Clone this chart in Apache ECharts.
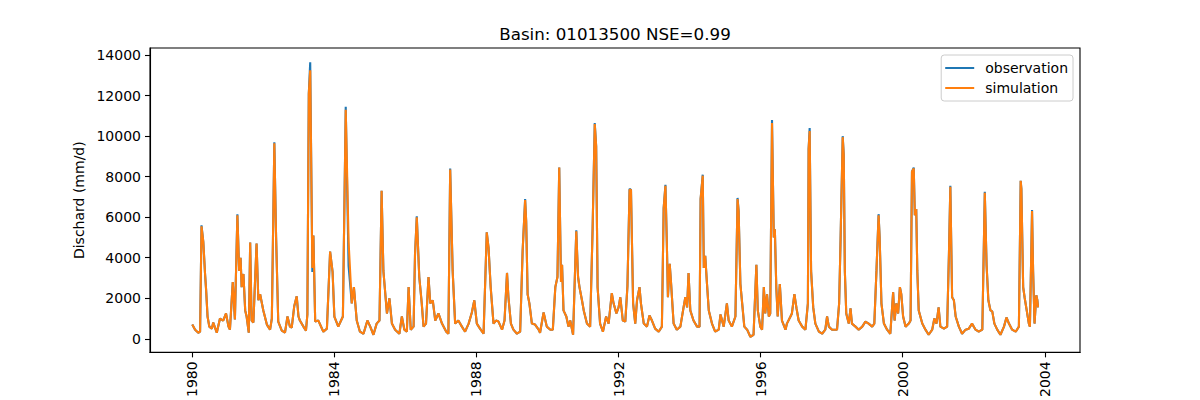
<!DOCTYPE html>
<html>
<head>
<meta charset="utf-8">
<script src="https://cdn.jsdelivr.net/npm/echarts@6/dist/echarts.min.js"></script>
<style>
  html, body { margin: 0; padding: 0; background: #fff; }
  #chart { width: 1200px; height: 400px; }
</style>
</head>
<body>
<div id="chart"></div>
<script>
// decimal years of the read-off points
const years = [
  1980.00, 1980.08, 1980.17, 1980.22, 1980.26, 1980.31, 1980.36, 1980.39, 1980.43, 1980.48,
  1980.55, 1980.59, 1980.69, 1980.78, 1980.87, 1980.95, 1981.02, 1981.06, 1981.14, 1981.20,
  1981.27, 1981.32, 1981.36, 1981.39, 1981.44, 1981.49, 1981.53, 1981.59, 1981.63, 1981.67,
  1981.72, 1981.81, 1981.86, 1981.91, 1982.00, 1982.10, 1982.19, 1982.24, 1982.31, 1982.36,
  1982.42, 1982.52, 1982.61, 1982.68, 1982.75, 1982.80, 1982.87, 1982.94, 1982.99, 1983.03,
  1983.13, 1983.20, 1983.24, 1983.28, 1983.32, 1983.38, 1983.41, 1983.46, 1983.55, 1983.69,
  1983.79, 1983.88, 1983.95, 1984.00, 1984.11, 1984.24, 1984.32, 1984.40, 1984.49, 1984.55,
  1984.63, 1984.72, 1984.82, 1984.93, 1985.01, 1985.10, 1985.19, 1985.27, 1985.33, 1985.38,
  1985.48, 1985.55, 1985.62, 1985.71, 1985.83, 1985.90, 1985.97, 1986.04, 1986.09, 1986.15,
  1986.23, 1986.27, 1986.32, 1986.39, 1986.46, 1986.51, 1986.58, 1986.65, 1986.70, 1986.77,
  1986.84, 1986.93, 1987.03, 1987.15, 1987.21, 1987.26, 1987.33, 1987.40, 1987.49, 1987.59,
  1987.68, 1987.78, 1987.87, 1987.94, 1988.01, 1988.10, 1988.20, 1988.29, 1988.34, 1988.40,
  1988.48, 1988.55, 1988.62, 1988.72, 1988.79, 1988.86, 1988.90, 1988.97, 1989.04, 1989.14,
  1989.23, 1989.30, 1989.37, 1989.40, 1989.44, 1989.49, 1989.56, 1989.65, 1989.75, 1989.79,
  1989.89, 1989.98, 1990.08, 1990.15, 1990.22, 1990.28, 1990.33, 1990.38, 1990.41, 1990.45,
  1990.53, 1990.59, 1990.64, 1990.72, 1990.81, 1990.86, 1990.90, 1990.97, 1991.02, 1991.11,
  1991.20, 1991.27, 1991.33, 1991.37, 1991.41, 1991.48, 1991.56, 1991.65, 1991.72, 1991.81,
  1991.86, 1991.94, 1992.00, 1992.05, 1992.12, 1992.19, 1992.25, 1992.31, 1992.35, 1992.41,
  1992.47, 1992.52, 1992.59, 1992.63, 1992.71, 1992.80, 1992.87, 1992.94, 1993.03, 1993.13,
  1993.22, 1993.27, 1993.32, 1993.36, 1993.39, 1993.44, 1993.48, 1993.55, 1993.64, 1993.74,
  1993.83, 1993.88, 1993.93, 1993.97, 1994.02, 1994.11, 1994.21, 1994.28, 1994.31, 1994.37,
  1994.40, 1994.44, 1994.49, 1994.54, 1994.63, 1994.72, 1994.82, 1994.87, 1994.96, 1995.05,
  1995.10, 1995.19, 1995.29, 1995.35, 1995.38, 1995.43, 1995.48, 1995.54, 1995.62, 1995.71,
  1995.80, 1995.88, 1995.92, 1995.99, 1996.04, 1996.09, 1996.13, 1996.18, 1996.23, 1996.27,
  1996.32, 1996.37, 1996.40, 1996.44, 1996.48, 1996.54, 1996.60, 1996.70, 1996.74, 1996.84,
  1996.88, 1996.95, 1997.01, 1997.07, 1997.17, 1997.26, 1997.33, 1997.35, 1997.38, 1997.42,
  1997.48, 1997.54, 1997.64, 1997.73, 1997.82, 1997.87, 1997.92, 1998.01, 1998.15, 1998.21,
  1998.25, 1998.31, 1998.34, 1998.37, 1998.41, 1998.48, 1998.53, 1998.57, 1998.67, 1998.76,
  1998.86, 1998.95, 1999.04, 1999.14, 1999.20, 1999.26, 1999.32, 1999.35, 1999.40, 1999.47,
  1999.56, 1999.65, 1999.73, 1999.77, 1999.82, 1999.87, 1999.92, 1999.96, 2000.01, 2000.08,
  2000.17, 2000.22, 2000.26, 2000.31, 2000.34, 2000.38, 2000.41, 2000.45, 2000.55, 2000.64,
  2000.73, 2000.83, 2000.89, 2000.95, 2001.01, 2001.06, 2001.16, 2001.25, 2001.30, 2001.34,
  2001.39, 2001.44, 2001.49, 2001.58, 2001.67, 2001.77, 2001.86, 2001.95, 2002.05, 2002.14,
  2002.24, 2002.31, 2002.36, 2002.41, 2002.47, 2002.52, 2002.58, 2002.66, 2002.75, 2002.85,
  2002.92, 2002.99, 2003.08, 2003.18, 2003.27, 2003.32, 2003.34, 2003.39, 2003.43, 2003.49,
  2003.55, 2003.58, 2003.64, 2003.67, 2003.71, 2003.76, 2003.79, 2003.81
];

const observed = [
  700, 450, 300, 350, 5600, 4800, 3200, 2400, 1100, 600,
  500, 800, 300, 1000, 900, 1250, 600, 450, 2800, 950,
  6150, 3350, 4000, 2550, 3200, 1400, 1100, 300, 4750, 900,
  800, 4700, 1900, 2200, 1400, 700, 450, 1000, 9700, 5000,
  850, 400, 300, 1100, 600, 550, 1600, 2100, 1100, 900,
  600, 400, 1200, 12100, 13650, 3300, 5100, 850, 900, 350,
  500, 4300, 3300, 1100, 600, 1100, 11450, 3600, 1750, 2550,
  900, 350, 250, 900, 600, 200, 750, 900, 7300, 3350,
  1250, 2000, 750, 450, 250, 1100, 450, 350, 2550, 450,
  600, 4150, 6050, 3050, 1750, 600, 750, 3050, 1750, 1900,
  900, 1250, 750, 350, 250, 8400, 3350, 750, 900, 600,
  350, 750, 1300, 1900, 750, 500, 250, 5250, 4500, 2550,
  750, 900, 850, 450, 900, 3250, 2050, 750, 450, 250,
  350, 4350, 6900, 5800, 2200, 1750, 750, 700, 450, 300,
  1300, 600, 450, 450, 2550, 3050, 8450, 2800, 3650, 1400,
  1100, 600, 900, 200, 5350, 3050, 2550, 1900, 1400, 750,
  600, 5450, 10650, 9500, 2550, 750, 350, 1100, 750, 2250,
  1750, 1250, 1550, 2050, 900, 850, 2600, 7400, 7350, 1750,
  750, 1900, 2550, 1750, 750, 600, 1150, 900, 500, 350,
  600, 6450, 7600, 4650, 2050, 3700, 2700, 750, 450, 600,
  1550, 2050, 1550, 3250, 1400, 900, 600, 600, 6900, 8100,
  3500, 4100, 2700, 1400, 750, 350, 450, 1200, 600, 1750,
  900, 600, 1100, 6950, 6300, 2700, 1750, 600, 450, 100,
  200, 3650, 1400, 600, 450, 2550, 1250, 2200, 1100, 1250,
  10800, 5000, 5400, 2550, 1100, 2700, 900, 450, 750, 1100,
  1250, 2200, 1500, 900, 600, 450, 1750, 9350, 10400, 3350,
  1550, 750, 350, 250, 450, 1100, 600, 450, 450, 1750,
  4900, 10000, 9050, 3350, 1250, 750, 1500, 750, 600, 450,
  600, 850, 750, 600, 750, 3350, 6150, 5000, 1750, 750,
  450, 250, 2300, 900, 1750, 1250, 2550, 2200, 1100, 600,
  750, 900, 8250, 8450, 6100, 6400, 3350, 1400, 750, 450,
  200, 450, 1000, 750, 1550, 600, 500, 600, 4150, 7550,
  2050, 1900, 1100, 600, 250, 450, 500, 750, 450, 350,
  450, 7250, 3650, 1900, 1400, 1350, 750, 450, 200, 600,
  1050, 750, 450, 350, 600, 7800, 7400, 2550, 2050, 1400,
  750, 600, 6350, 3350, 750, 2150, 1900, 1550
];

const simulated = [
  700, 450, 300, 350, 5550, 4800, 3200, 2400, 1100, 600,
  500, 800, 300, 1000, 900, 1250, 600, 450, 2800, 950,
  6100, 3350, 4000, 2550, 3200, 1400, 1100, 300, 4750, 900,
  800, 4700, 1900, 2200, 1400, 700, 450, 1000, 9650, 5000,
  850, 400, 300, 1100, 600, 550, 1600, 2100, 1100, 900,
  600, 400, 1200, 12100, 13250, 3500, 5100, 850, 900, 350,
  500, 4300, 3300, 1100, 600, 1100, 11300, 4800, 1750, 2550,
  900, 350, 250, 900, 600, 200, 750, 900, 7300, 3350,
  1250, 2000, 750, 450, 250, 1100, 450, 350, 2550, 450,
  600, 4150, 6000, 3050, 1750, 600, 750, 3050, 1750, 1900,
  900, 1250, 750, 350, 250, 8350, 3350, 750, 900, 600,
  350, 750, 1300, 1900, 750, 500, 250, 5250, 4500, 2550,
  750, 900, 850, 450, 900, 3250, 2050, 750, 450, 250,
  350, 4350, 6850, 5800, 2200, 1750, 750, 700, 450, 300,
  1300, 600, 450, 450, 2550, 3050, 8450, 2800, 3650, 1400,
  1100, 600, 900, 200, 5300, 3050, 2550, 1900, 1400, 750,
  600, 5450, 10600, 9500, 2550, 750, 350, 1100, 750, 2250,
  1750, 1250, 1550, 2050, 900, 850, 2600, 7350, 7350, 1750,
  750, 1900, 2550, 1750, 750, 600, 1150, 900, 500, 350,
  600, 6450, 7550, 4650, 2050, 3700, 2700, 750, 450, 600,
  1550, 2050, 1550, 3250, 1400, 900, 600, 600, 6900, 8050,
  3500, 4100, 2700, 1400, 750, 350, 450, 1200, 600, 1750,
  900, 600, 1100, 6900, 6300, 2700, 1750, 600, 450, 100,
  200, 3650, 1400, 600, 450, 2550, 1250, 2200, 1100, 1250,
  10650, 5000, 5400, 2550, 1100, 2700, 900, 450, 750, 1100,
  1250, 2200, 1500, 900, 600, 450, 1750, 9350, 10250, 3350,
  1550, 750, 350, 250, 450, 1100, 600, 450, 450, 1750,
  4900, 9950, 9050, 3350, 1250, 750, 1500, 750, 600, 450,
  600, 850, 750, 600, 750, 3350, 6100, 5000, 1750, 750,
  450, 250, 2300, 900, 1750, 1250, 2550, 2200, 1100, 600,
  750, 900, 8250, 8400, 6100, 6400, 3350, 1400, 750, 450,
  200, 450, 1000, 750, 1550, 600, 500, 600, 4150, 7500,
  2050, 1900, 1100, 600, 250, 450, 500, 750, 450, 350,
  450, 7200, 3650, 1900, 1400, 1350, 750, 450, 200, 600,
  1050, 750, 450, 350, 600, 7800, 7400, 2550, 2050, 1400,
  750, 600, 6300, 3350, 750, 2150, 1900, 1550
];

const xTicks = [1980, 1984, 1988, 1992, 1996, 2000, 2004];
const yTicks = [0, 2000, 4000, 6000, 8000, 10000, 12000, 14000];

const FONT = 'DejaVu Sans';
const chart = echarts.init(document.getElementById('chart'), null, { renderer: 'svg' });

chart.setOption({
    animation: false,
    backgroundColor: '#fff',
    textStyle: { fontFamily: FONT },
    graphic: [{
        type: 'text',
        x: 615, y: 34,
        style: {
            text: 'Basin: 01013500 NSE=0.99',
            font: '16.7px "DejaVu Sans"',
            fill: '#000',
            align: 'center',
            verticalAlign: 'middle'
        }
    }],
    grid: {
        left: 150, right: 120, top: 48, bottom: 44,
        show: true, borderColor: '#000', borderWidth: 1.1, backgroundColor: 'transparent'
    },
    legend: {
        orient: 'vertical',
        right: 127, top: 55,
        padding: [6, 5, 6, 4],
        itemGap: 6,
        itemWidth: 29, itemHeight: 2,
        icon: 'rect',
        backgroundColor: 'rgba(255,255,255,0.8)',
        borderColor: '#cccccc', borderWidth: 1, borderRadius: 3,
        textStyle: { fontFamily: FONT, fontSize: 14, color: '#000', padding: [0, 0, 0, 6] },
        data: ['observation', 'simulation']
    },
    xAxis: {
        type: 'value',
        min: 1978.81, max: 2004.99,
        splitLine: { show: false },
        axisLine: { show: true, onZero: false, lineStyle: { color: '#000', width: 1.1 } },
        axisTick: { show: true, length: 5, customValues: xTicks, lineStyle: { color: '#000', width: 1.1 } },
        axisLabel: {
            customValues: xTicks, rotate: 90, margin: 9,
            fontFamily: FONT, fontSize: 14, color: '#000',
            formatter: v => String(v)
        }
    },
    yAxis: {
        type: 'value',
        min: -670, max: 14350,
        name: 'Dischard (mm/d)',
        nameLocation: 'middle', nameRotate: 90, nameGap: 58,
        nameTextStyle: { fontFamily: FONT, fontSize: 14, color: '#000' },
        splitLine: { show: false },
        axisLine: { show: true, onZero: false, lineStyle: { color: '#000', width: 1.1 } },
        axisTick: { show: true, length: 5, customValues: yTicks, lineStyle: { color: '#000', width: 1.1 } },
        axisLabel: {
            customValues: yTicks, margin: 9,
            fontFamily: FONT, fontSize: 14, color: '#000',
            formatter: v => String(v)
        }
    },
    series: [
        {
            name: 'observation', type: 'line',
            data: years.map((y, i) => [y, observed[i]]),
            showSymbol: false, symbol: 'none',
            color: '#1f77b4',
            lineStyle: { color: '#1f77b4', width: 2.1 }
        },
        {
            name: 'simulation', type: 'line',
            data: years.map((y, i) => [y, simulated[i]]),
            showSymbol: false, symbol: 'none',
            color: '#ff7f0e',
            lineStyle: { color: '#ff7f0e', width: 2.1 }
        }
    ]
});
</script>
</body>
</html>
